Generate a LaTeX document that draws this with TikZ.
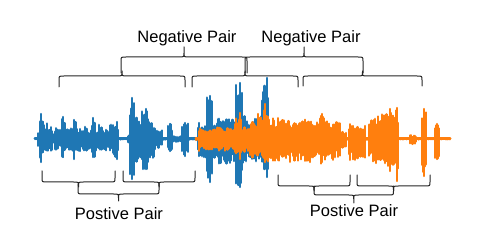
\documentclass[tikz,border=0pt]{standalone}
\usepackage{fontspec}
\setmainfont{Liberation Sans}
\definecolor{wb}{HTML}{1F77B4}
\definecolor{wo}{HTML}{FF7F0E}
\tikzset{
  wblue/.style={draw=wb, line width=2.2pt, line cap=round},
  worange/.style={draw=wo, line width=2.2pt, line cap=round},
  bracepath/.style={draw=black!85, line width=1pt, line cap=round, line join=round},
  lbl/.style={font=\fontsize{16.5}{20}\selectfont, anchor=base, inner sep=0pt},
}
\newcommand\wavepart[5]{%
  \pgfmathtruncatemacro\wn{max(0,(#3-#2)/1.2)}%
  \foreach \wi in {0,...,\wn}{%
    \pgfmathsetmacro\wx{#2+\wi*1.2}%
    \pgfmathsetmacro\wu{139-#4*(0.55+0.45*rnd)+1}%
    \pgfmathsetmacro\wd{139+#5*(0.55+0.45*rnd)-1}%
    \draw[#1] (\wx,\wu) -- (\wx,\wd);
  }%
}
\newcommand\hbrace[5]{%
  \pgfmathsetmacro\bm{(#1+#2)/2}%
  \pgfmathsetmacro\bs{#3>#4 ? 4 : -4}%
  \pgfmathsetmacro\bt{#5>#4 ? 4 : -4}%
  \draw[bracepath] (#1,#3) -- (#1,#4+\bs) .. controls (#1,#4) .. (#1+5,#4)
    -- (\bm-5,#4) .. controls (\bm,#4) .. (\bm,#4+\bt) -- (\bm,#5)
    -- (\bm,#4+\bt) .. controls (\bm,#4) .. (\bm+5,#4)
    -- (#2-5,#4) .. controls (#2,#4) .. (#2,#4+\bs) -- (#2,#3);
}
\begin{document}
\begin{tikzpicture}[x=1pt,y=-1pt]
\pgfmathsetseed{7}
\useasboundingbox[fill=white] (0,0) rectangle (498,248);
% blue waveform
\draw[wb, line width=3pt, line cap=round] (35,139) -- (272,139);
\foreach \a/\b/\u/\d in {35/38/1.5/1.5, 38/40/8/8, 40/43/26/24, 43/47/18/18,
  47/52/13/14, 52/55/6/7, 55/62/12/12, 62/65/23/19, 65/73/12/12, 73/76/20/20,
  76/84/12/13, 84/87/15/14, 87/92/11/12, 92/95/22/19, 95/99/11/13, 99/102/16/15,
  102/110/11/13, 110/113/16/13, 113/118/18/21, 118/128/1.5/1.5, 128/130/6/6,
  130/134/42/41, 134/138/24/26, 138/142/26/22, 142/149/31/31, 149/156/18/20,
  156/163/10/10, 163/168/2/2, 168/172/16/13, 172/182/4/4, 182/188/17/18,
  188/198/2/2, 198/207/18/20, 207/212/44/44, 212/218/18/20, 218/236/24/26,
  236/242/57/49, 242/255/24/26, 255/262/28/28, 262/268/62/39, 268/272/15/15}
  {\wavepart{wblue}{\a}{\b}{\u}{\d}}
\foreach \x/\t/\b in {41/114/162, 63/117/157, 74/120/159, 93/118/157, 117/122/159,
  132/98/179, 146/109/169, 170/124/151, 185/123/156, 210/96/182, 240/83/187, 267/78/177}
  {\draw[wblue, line width=2.4pt] (\x,\t) -- (\x,\b);}
% orange waveform
\draw[wo, line width=3pt, line cap=round] (196,139) -- (450,139);
\foreach \a/\b/\u/\d in {196/199/2/2, 199/206/12/13, 206/215/11/12, 215/225/13/14,
  225/235/12/14, 235/242/22/21, 242/250/14/17, 250/258/20/22, 258/268/30/24,
  268/280/22/24, 280/300/20/24, 300/312/22/24, 312/320/18/22, 320/328/26/26,
  328/340/18/22, 340/346/10/10, 346/349/2/2, 349/358/17/22, 358/366/14/20,
  366/369/2/2, 369/378/22/26, 378/388/28/28, 388/398/31/33, 398/410/1.5/1.5,
  410/416/5/6, 416/422/1.5/1.5, 422/426/31/38, 426/435/1.5/1.5, 435/439/16/21,
  439/450/1.5/1.5}
  {\wavepart{worange}{\a}{\b}{\u}{\d}}
\foreach \x/\t/\b in {240/113/159, 265/104/162, 322/114/162, 390/109/171,
  397/108/181, 424/109/176, 437/124/159}
  {\draw[worange, line width=2.4pt] (\x,\t) -- (\x,\b);}
% top braces
\hbrace{121}{247}{73}{57}{47}
\hbrace{245}{363}{73}{57}{47}
\hbrace{59}{185}{87}{76}{71}
\hbrace{192}{298}{87}{76}{71}
\hbrace{303}{422}{86}{76}{71}
% bottom braces
\hbrace{42}{115}{171}{182}{187}
\hbrace{123}{195}{171}{182}{187}
\hbrace{78}{159}{184}{194}{201}
\hbrace{278}{350}{175}{186}{191}
\hbrace{357}{430}{175}{186}{191}
\hbrace{314}{393.5}{186}{195}{203}
% labels
\node[lbl] (neg1) at (187,42.6) {Negative Pair};
\node[lbl] (neg2) at (311,42.6) {Negative Pair};
\node[lbl] (pos1) at (119,220) {Postive Pair};
\node[lbl] (pos2) at (354,217) {Postive Pair};
\end{tikzpicture}
\end{document}
